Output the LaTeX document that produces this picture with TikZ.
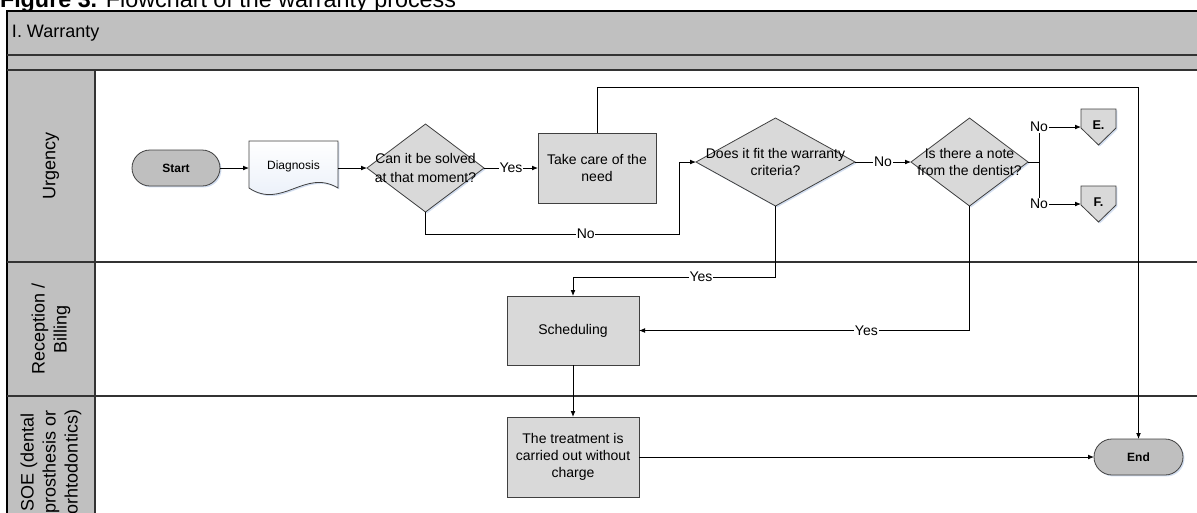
\documentclass[tikz,border=0pt]{standalone}
\usepackage{fontspec}
\setmainfont{Liberation Sans}
\usetikzlibrary{arrows.meta,shapes.geometric,shadows}
\definecolor{hdr}{HTML}{C0C0C0}
\definecolor{boxc}{HTML}{D9D9D9}
\definecolor{termc}{HTML}{BFBFBF}
\definecolor{edgec}{HTML}{404040}
\definecolor{lanec}{HTML}{333333}
\definecolor{shd}{HTML}{C8D6EC}
\definecolor{docc}{HTML}{E6EDF8}
\begin{document}
\begin{tikzpicture}[x=0.75pt,y=-0.75pt,
  every node/.style={font=\fontsize{10.5pt}{12.75pt}\selectfont, outer sep=0pt},
  shadowed/.style={drop shadow={shadow xshift=1.1pt, shadow yshift=-1.1pt, fill=shd, opacity=0.8}},
  procbox/.style={rectangle, draw=edgec, fill=boxc, line width=0.6pt, align=center, inner sep=1pt, shadowed},
  termbox/.style={rectangle, rounded corners=13.5pt, draw=edgec, fill=termc, line width=0.6pt, inner sep=0pt,
    minimum width=66pt, minimum height=27pt, font=\fontsize{9pt}{11pt}\selectfont\bfseries, shadowed},
  decision/.style={diamond, draw=edgec, fill=boxc, line width=0.6pt, inner sep=0pt, minimum height=66pt, shadowed},
  dectext/.style={align=center, inner sep=0pt},
  arr/.style={-{Latex[length=4.5pt,width=3.6pt]}, line width=0.6pt, black},
  conn/.style={line width=0.6pt, black},
  lbl/.style={fill=white, inner sep=0.6pt},
  lanel/.style={line width=1pt, draw=lanec},
  lanetxt/.style={rotate=90, align=center, inner sep=0pt, font=\fontsize{13.5pt}{16.5pt}\selectfont},
  pageoff/.style={draw=edgec, fill=boxc, line width=0.6pt, shadowed}
]
\useasboundingbox (0,0) rectangle (1197,512);
\clip (0,0) rectangle (1197,512);

% ---- title ----
\node[anchor=base west, inner sep=0pt, font=\fontsize{17.5pt}{20pt}\selectfont] (title) at (0,7)
  {\textbf{Figure 3.} Flowchart of the warranty process};

% ---- pool and lanes ----
\fill[hdr] (7,11) rectangle (1205,70);
\fill[hdr] (7,70) rectangle (95,530);
\draw[line width=1pt, black] (1205,11) -- (7,11) -- (7,530);
\draw[lanel] (7,55) -- (1205,55);
\draw[lanel] (7,70) -- (1205,70);
\draw[lanel] (95,70) -- (95,530);
\draw[lanel] (7,262) -- (1205,262);
\draw[lanel] (7,396) -- (1205,396);

\node[anchor=west, inner sep=0pt, font=\fontsize{13.5pt}{16pt}\selectfont] (pool) at (12,33) {I. Warranty};
\node[lanetxt] (lane1) at (51,166) {Urgency};
\node[lanetxt] (lane2) at (51,329) {Reception /\\Billing};
\node[lanetxt] (lane3) at (51,462) {SOE (dental\\prosthesis or\\orhtodontics)};

% ---- nodes ----
\node[termbox] (start) at (176,168) {Start};

\path[shadowed, draw=edgec, line width=0.6pt, top color=white, bottom color=docc]
  (249,141) -- (338,141) -- (338,188) .. controls (305,168) and (282,210) .. (249,188) -- cycle;
\node[inner sep=0pt, minimum width=66.75pt, minimum height=40.5pt, font=\fontsize{9pt}{11pt}\selectfont]
  (diag) at (293.5,168) {\raisebox{4.5pt}{Diagnosis}};

\node[decision, minimum width=87.75pt] (d1) at (425.5,168) {};
\node[dectext] (d1t) at (425.5,168) {Can it be solved\\[2pt]at that moment?};

\node[procbox, minimum width=88.5pt, minimum height=52.5pt] (take) at (597,168) {Take care of the\\need};

\node[decision, minimum width=119.25pt] (d2) at (775.5,162) {};
\node[dectext] (d2t) at (775.5,162) {Does it fit the warranty\\criteria?};

\node[decision, minimum width=87.75pt] (d3) at (969.5,162) {};
\node[dectext] (d3t) at (969.5,162) {Is there a note\\from the dentist?};

\path[pageoff] (1081,109) -- (1116,109) -- (1116,128) -- (1098.5,145) -- (1081,128) -- cycle;
\node[inner sep=0pt, minimum width=26.25pt, minimum height=27pt, font=\fontsize{9.5pt}{11pt}\selectfont\bfseries]
  (E) at (1098.5,127) {\raisebox{3pt}{E.}};
\path[pageoff] (1081,186) -- (1116,186) -- (1116,205) -- (1098.5,222) -- (1081,205) -- cycle;
\node[inner sep=0pt, minimum width=26.25pt, minimum height=27pt, font=\fontsize{9.5pt}{11pt}\selectfont\bfseries]
  (F) at (1098.5,204) {\raisebox{3pt}{F.}};

\node[procbox, minimum width=99pt, minimum height=51.75pt] (sched) at (573,330.5) {Scheduling};
\node[procbox, minimum width=99pt, minimum height=60pt] (treat) at (573,457) {The treatment is\\carried out without\\charge};
\node[termbox, minimum width=66.75pt] (end) at (1138.5,457) {End};

% ---- helper coordinates ----
\coordinate (ylow) at (0,234);
\coordinate (xno) at (679,0);
\coordinate (ytop) at (0,87);
\coordinate (yyes) at (0,277);
\coordinate (split) at (1039,162);

% ---- connectors ----
\draw[arr] (start.east) -- (diag.west);
\draw[arr] (diag.east) -- (d1.west);
\draw[arr] (d1.east) -- node[lbl]{Yes} (take.west);
\draw[arr] (d1.south) |- node[lbl, pos=0.816]{No} (xno |- ylow) |- (d2.west);
\draw[arr] (take.north) -- (take.north |- ytop) -| (end.north);
\draw[arr] (d2.east) -- node[lbl]{No} (d3.west);
\draw[conn] (d3.east) -- (split);
\draw[arr] (split) |- node[lbl, pos=0.5]{No} (E.west);
\draw[arr] (split) |- node[lbl, pos=0.5]{No} (F.west);
\draw[arr] (d2.south) |- node[lbl, pos=0.684]{Yes} (sched.north |- yyes) -- (sched.north);
\draw[arr] (d3.south) |- node[lbl, pos=0.656]{Yes} (sched.east);
\draw[arr] (sched.south) -- (treat.north);
\draw[arr] (treat.east) -- (end.west);
\end{tikzpicture}
\end{document}
